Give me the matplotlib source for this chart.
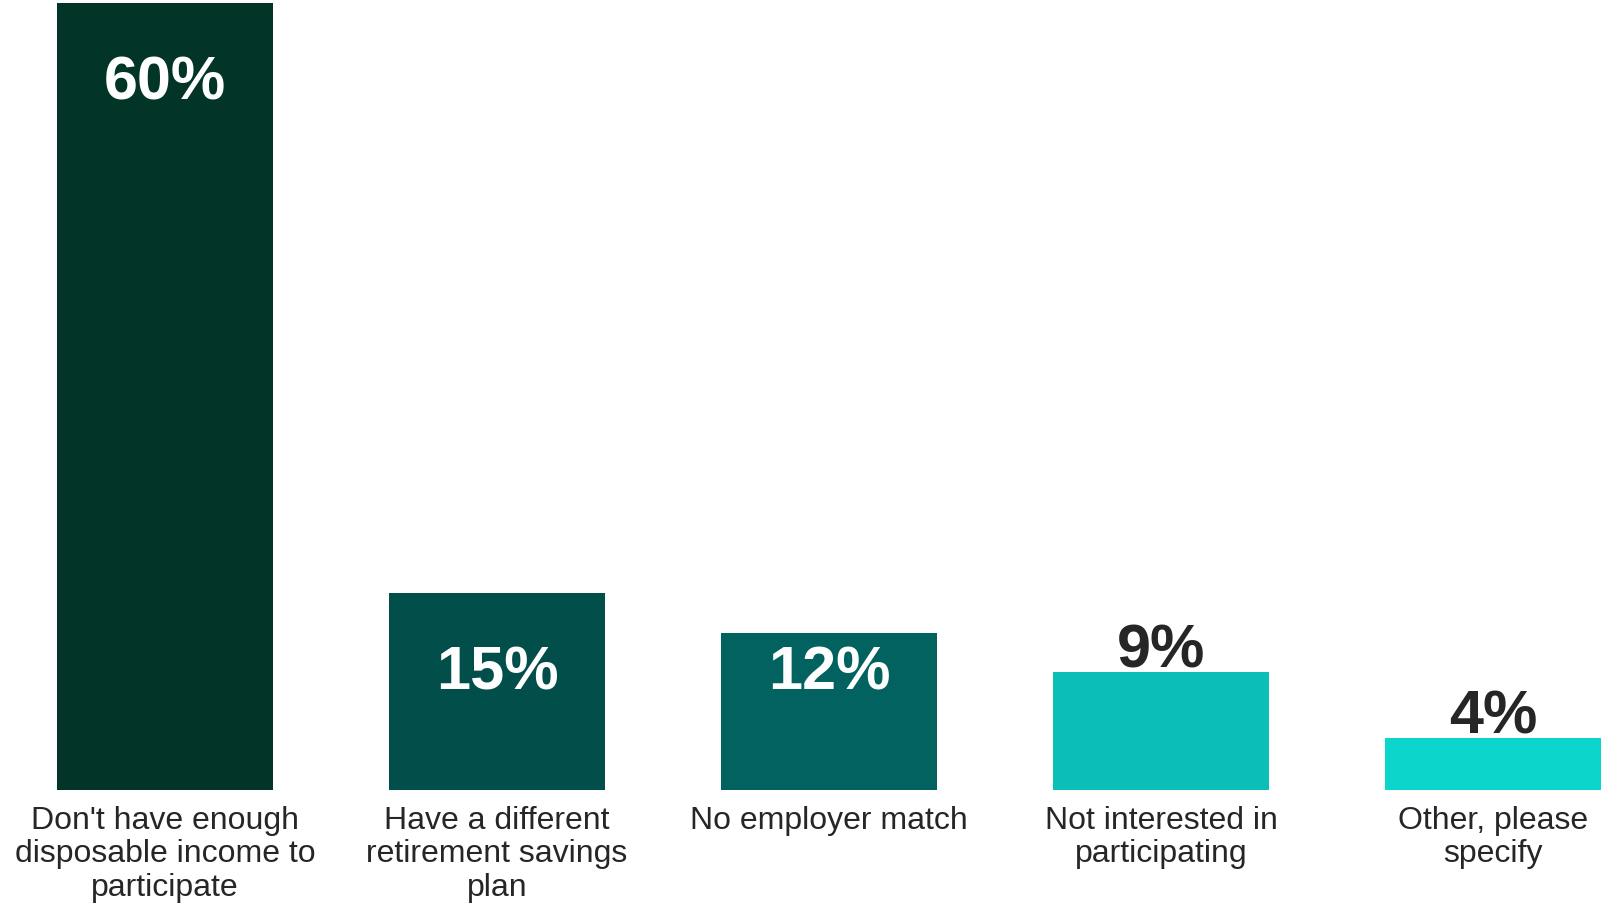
import matplotlib
matplotlib.use('Agg')
import matplotlib.pyplot as plt

plt.rcParams['font.family'] = ['Liberation Sans', 'DejaVu Sans']

CATEGORIES = ["Don't have enough\ndisposable income to\nparticipate",
              "Have a different\nretirement savings\nplan",
              "No employer match",
              "Not interested in\nparticipating",
              "Other, please\nspecify"]
VALUES     = [60, 15, 12, 9, 4]

COLORS      = ['#023527', '#024E4A', '#02625F', '#0BBFB8', '#0CD5CB']
LABEL_COLS  = ['white', 'white', 'white', '#262626', '#262626']
# label placement: inside the bar (offset below top, px) or above it
LABEL_INSIDE = [True, True, True, False, False]
LABEL_OFFS   = [-80, -80, -40, 5, 5]

fig = plt.figure(figsize=(16.04, 9.04), dpi=100)
ax = fig.add_axes([0, 0.125, 1, 0.875])

x = list(range(len(VALUES)))
ax.bar(x, VALUES, width=0.65, color=COLORS)

for xi, v, col, inside, off in zip(x, VALUES, LABEL_COLS, LABEL_INSIDE, LABEL_OFFS):
    ax.annotate(f'{v}%', (xi, v), xytext=(0, off), textcoords='offset pixels',
                ha='center', va='center' if inside else 'baseline',
                fontsize=44, fontweight='bold', color=col)

ax.set_xlim(-0.497, 4.334)
ax.set_ylim(0, 60.3)
ax.set_xticks(x)
ax.set_xticklabels(CATEGORIES, fontsize=23, color='#262626', linespacing=1.14)
ax.tick_params(axis='x', length=0, pad=11)
ax.set_yticks([])
for s in ax.spines.values():
    s.set_visible(False)

fig.savefig('out.png', dpi=100)
plt.close(fig)
